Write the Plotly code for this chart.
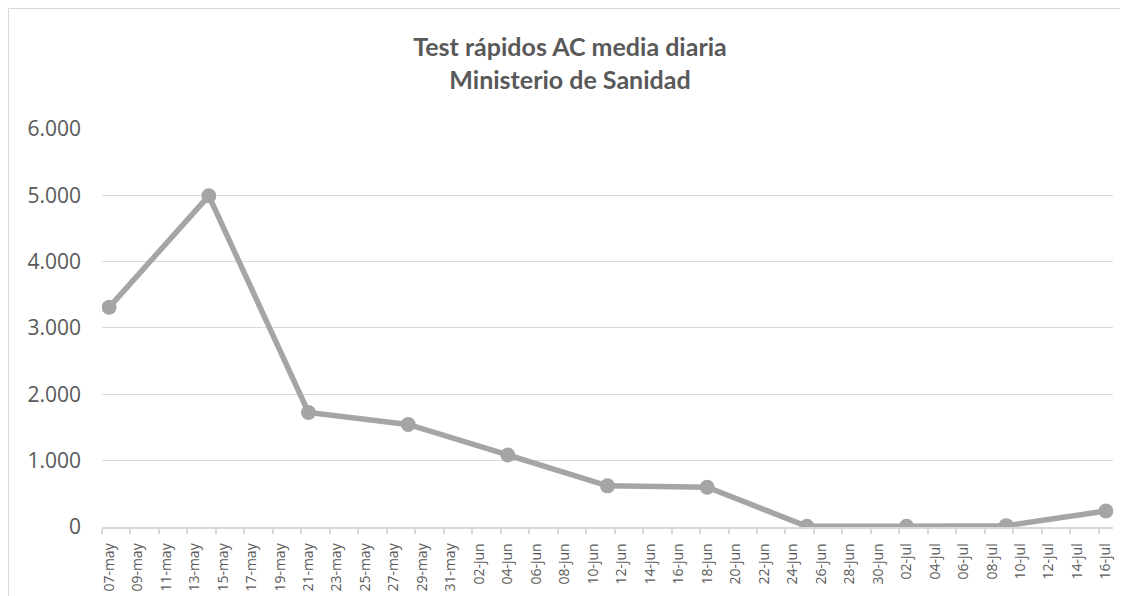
import plotly.graph_objects as go

# weekly points (media diaria)
fechas = ['2020-05-07', '2020-05-14', '2020-05-21', '2020-05-28', '2020-06-04',
          '2020-06-11', '2020-06-18', '2020-06-25', '2020-07-02', '2020-07-09',
          '2020-07-16']
test_ac = [3310, 4990, 1725, 1545, 1085, 620, 600, 10, 10, 20, 240]

# x tick labels every 2 days
tick_labels = ['07-may', '09-may', '11-may', '13-may', '15-may', '17-may', '19-may',
               '21-may', '23-may', '25-may', '27-may', '29-may', '31-may',
               '02-jun', '04-jun', '06-jun', '08-jun', '10-jun', '12-jun', '14-jun',
               '16-jun', '18-jun', '20-jun', '22-jun', '24-jun', '26-jun', '28-jun',
               '30-jun', '02-jul', '04-jul', '06-jul', '08-jul', '10-jul', '12-jul',
               '14-jul', '16-jul']
meses = {'may': '05', 'jun': '06', 'jul': '07'}
tick_vals = [f"2020-{meses[t[3:]]}-{t[:2]}" for t in tick_labels]

GRAY = '#595959'
GRID = '#d9d9d9'
# page body adds an 8px margin, so the figure is a bit smaller
W, H = 1120, 588
ML, MR, MT, MB = 94, 15, 120, 69

fig = go.Figure()
fig.add_trace(go.Scatter(
    x=fechas, y=test_ac, mode='lines+markers',
    line=dict(color='#a5a5a5', width=5.5),
    marker=dict(color='#a5a5a5', size=15),
    showlegend=False,
))

# light chart border, only left and top edges are visible in the original
pw, ph = W - ML - MR, H - MT - MB
bx0 = (0.5 - ML) / pw
by1 = 1 + (MT - 0.5) / ph
fig.add_shape(type='line', xref='paper', yref='paper',
              x0=bx0, x1=bx0, y0=-(H - ph - MT + 5) / ph, y1=by1,
              line=dict(color=GRID, width=1), layer='below')
fig.add_shape(type='line', xref='paper', yref='paper',
              x0=bx0, x1=(W + 5 - ML) / pw, y0=by1, y1=by1,
              line=dict(color=GRID, width=1), layer='below')

fig.update_layout(
    width=W, height=H,
    margin=dict(l=ML, r=MR, t=MT, b=MB),
    paper_bgcolor='white', plot_bgcolor='white',
    separators=',.',
    font=dict(family='Open Sans', color=GRAY),
    title=dict(
        text='<b>Test rápidos AC media diaria<br>Ministerio de Sanidad</b>',
        font=dict(family='Lato', size=25, color=GRAY),
        xref='container', yref='container',
        x=562 / W, xanchor='center', y=1 - 48 / H, yanchor='top',
        automargin=False,
    ),
    xaxis=dict(
        type='date', automargin=False,
        range=['2020-05-06 12:00', '2020-07-16 12:00'],
        tickmode='array', tickvals=tick_vals, ticktext=tick_labels,
        tickangle=-90, tickfont=dict(size=14, color=GRAY),
        ticks='', ticklabelstandoff=9,
        showgrid=False, showline=True, linecolor=GRID, linewidth=1.5,
        minor=dict(ticks='outside', ticklen=5, tickcolor=GRID, tickwidth=1.5,
                   tick0='2020-05-06 12:00', dtick=2 * 86400000, showgrid=False),
        zeroline=False,
    ),
    yaxis=dict(
        range=[0, 6012], tickmode='array', tickvals=[0, 1000, 2000, 3000, 4000, 5000, 6000],
        tickformat=',', automargin=False,
        tickfont=dict(size=21, color=GRAY),
        showgrid=True, gridcolor=GRID, gridwidth=1.3,
        zeroline=False, showline=False, ticks='', ticklabelstandoff=20,
    ),
)

fig.write_html('out.html')
